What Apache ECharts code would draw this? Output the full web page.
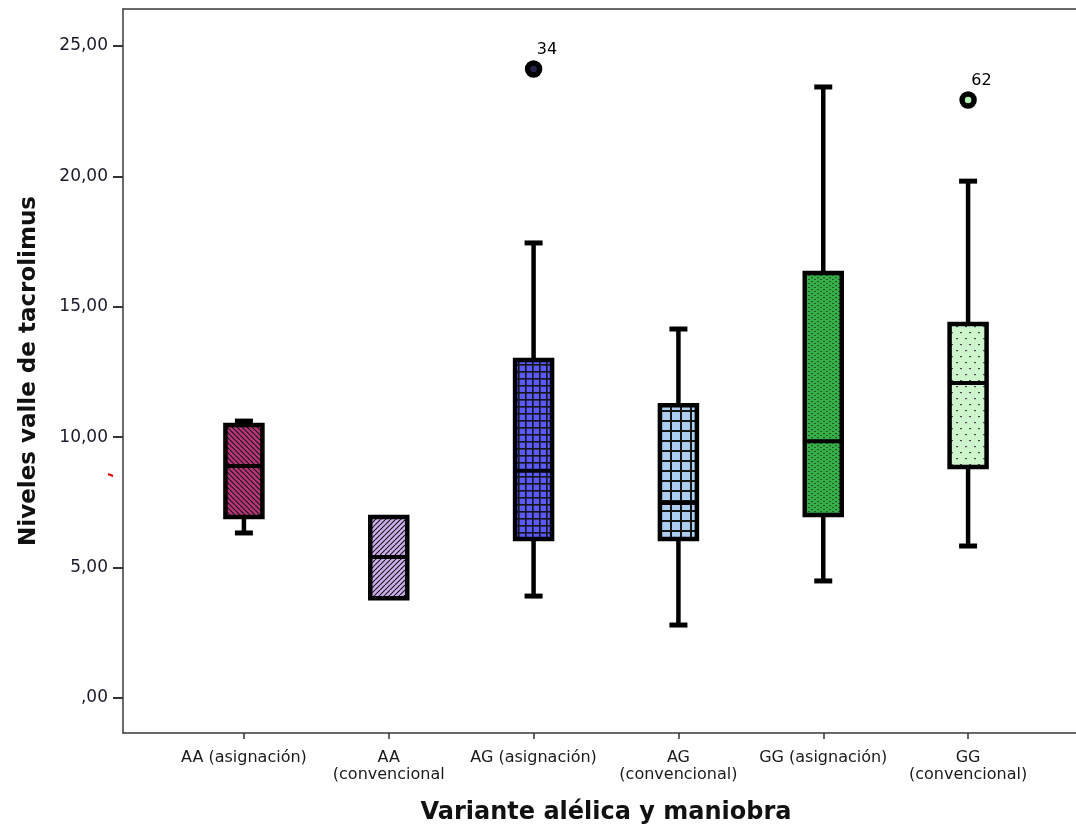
<!DOCTYPE html>
<html>
<head>
<meta charset="utf-8">
<script src="https://cdn.jsdelivr.net/npm/echarts@6/dist/echarts.min.js"></script>
<style>
  html, body { margin: 0; padding: 0; background: #fff; }
  #chart { width: 1076px; height: 832px; }
</style>
</head>
<body>
<div id="chart"></div>
<script>
// group labels (the second one is cut off in the original)
const categories = [
  'AA (asignación)',
  'AA\n(convencional',
  'AG (asignación)',
  'AG\n(convencional)',
  'GG (asignación)',
  'GG\n(convencional)'
]
const whiskerLow = [6.33, 3.83, 3.91, 2.80, 4.49, 5.83]
const q1 = [6.94, 3.83, 6.10, 6.10, 7.02, 8.86]
const median = [8.90, 5.41, 8.72, 7.48, 9.85, 12.08]
const q3 = [10.47, 6.94, 12.96, 11.23, 16.30, 14.34]
const whiskerHigh = [10.62, 6.94, 17.45, 14.15, 23.43, 19.82]
// outliers: [group index, value, case label]
const outliers = [[2, 24.12, '34'], [5, 22.93, '62']]
const yTicks = [0, 5, 10, 15, 20, 25]

const font = 'DejaVu Sans'

function makePattern (w, h, bg, draw) {
  const c = document.createElement('canvas')
  c.width = w
  c.height = h
  const ctx = c.getContext('2d')
  ctx.fillStyle = bg
  ctx.fillRect(0, 0, w, h)
  draw(ctx, w, h)
  return { image: c, repeat: 'repeat' }
}

function diag (dir) {
  return (ctx, w, h) => {
    ctx.strokeStyle = '#151515'
    ctx.lineWidth = 1.1
    ctx.beginPath()
    for (const k of [-w, 0, w]) {
      if (dir > 0) { ctx.moveTo(k, 0); ctx.lineTo(k + w, h) } else { ctx.moveTo(k, h); ctx.lineTo(k + w, 0) }
    }
    ctx.stroke()
  }
}

function grid (lw) {
  return (ctx, w, h) => {
    ctx.fillStyle = '#151515'
    ctx.fillRect(0, 0, w, lw)
    ctx.fillRect(0, 0, lw, h)
  }
}

function dots (color, pts) {
  return (ctx) => {
    ctx.fillStyle = color
    pts.forEach(p => ctx.fillRect(p[0], p[1], 2, 1.2))
  }
}

const fills = [
  makePattern(5, 5, '#b8357a', diag(1)),
  makePattern(5, 5, '#cdaeec', diag(-1)),
  makePattern(7, 7, '#5a5aff', grid(1.6)),
  makePattern(10, 10, '#aacdf0', grid(2)),
  makePattern(6, 4, '#38b04a', dots('#1d5a27', [[1, 1], [4, 3]])),
  makePattern(9, 12, '#cdf6cd', dots('#4a4a4a', [[2, 2], [6, 8]]))
]
const outlierFill = ['#24244e', '#b5efb5']

const boxData = categories.map((c, i) => [i, whiskerLow[i], q1[i], median[i], q3[i], whiskerHigh[i]])

const chart = echarts.init(document.getElementById('chart'))

const yMin = -1.34
const yMax = 26.42

const frameLine = { show: true, onZero: false, lineStyle: { color: '#3a3a3a', width: 1.5 } }

const option = {
  animation: false,
  textStyle: { fontFamily: font },
  grid: [
    { left: 123, top: 9, width: 966, height: 724 },
    { left: 171.5, top: 9, width: 869, height: 724 }
  ],
  xAxis: [
    { gridIndex: 0, type: 'value', min: 0, max: 1, position: 'bottom', axisLine: frameLine, axisTick: { show: false }, axisLabel: { show: false }, splitLine: { show: false } },
    {
      gridIndex: 1,
      type: 'category',
      data: categories,
      boundaryGap: true,
      position: 'bottom',
      axisLine: { show: false, onZero: false },
      axisTick: { show: true, alignWithLabel: true, length: 6, lineStyle: { color: '#333', width: 1.5 } },
      axisLabel: { interval: 0, fontSize: 16, color: '#1a1a1a', margin: 16, lineHeight: 17, fontFamily: font },
      splitLine: { show: false },
      name: 'Variante alélica y maniobra',
      nameLocation: 'middle',
      nameGap: 68,
      nameTextStyle: { fontSize: 24, fontWeight: 'bold', color: '#111', fontFamily: font }
    },
    { gridIndex: 0, type: 'value', min: 0, max: 1, position: 'top', axisLine: frameLine, axisTick: { show: false }, axisLabel: { show: false }, splitLine: { show: false } }
  ],
  yAxis: [
    {
      gridIndex: 0,
      type: 'value',
      min: yMin,
      max: yMax,
      axisLine: { show: true, onZero: false, lineStyle: { color: '#3a3a3a', width: 1.5 } },
      axisTick: { show: true, length: 10, customValues: yTicks, lineStyle: { color: '#333', width: 2 } },
      axisLabel: {
        fontSize: 17,
        color: '#1a1a2a',
        margin: 15,
        customValues: yTicks,
        fontFamily: font,
        formatter: v => v === 0 ? ',00' : v.toFixed(2).replace('.', ',')
      },
      splitLine: { show: false },
      name: 'Niveles valle de tacrolimus',
      nameLocation: 'middle',
      nameGap: 82,
      nameTextStyle: { fontSize: 23, fontWeight: 'bold', color: '#111', fontFamily: font }
    },
    { gridIndex: 1, type: 'value', min: yMin, max: yMax, show: false }
  ],
  graphic: [
    { type: 'line', shape: { x1: 108, y1: 474, x2: 113, y2: 476 }, style: { stroke: '#e00000', lineWidth: 2 }, z: 10 }
  ],
  series: [
    {
      type: 'custom',
      xAxisIndex: 1,
      yAxisIndex: 1,
      data: boxData,
      encode: { x: 0, y: [1, 2, 3, 4, 5] },
      renderItem: function (params, api) {
        const i = api.value(0)
        const lo = api.coord([i, api.value(1)])
        const b1 = api.coord([i, api.value(2)])
        const md = api.coord([i, api.value(3)])
        const b3 = api.coord([i, api.value(4)])
        const hi = api.coord([i, api.value(5)])
        const x = lo[0]
        const bw = 37
        const cw = 18
        const lw = 4.5
        const line = (x1, y1, x2, y2, w) => ({
          type: 'line',
          shape: { x1, y1, x2, y2 },
          style: { stroke: '#000', lineWidth: w }
        })
        const children = []
        if (hi[1] < b3[1] - 0.5) {
          children.push(line(x, hi[1], x, b3[1], lw))
          children.push(line(x - cw / 2, hi[1], x + cw / 2, hi[1], 5))
        }
        if (lo[1] > b1[1] + 0.5) {
          children.push(line(x, b1[1], x, lo[1], lw))
          children.push(line(x - cw / 2, lo[1], x + cw / 2, lo[1], 5))
        }
        children.push({
          type: 'rect',
          shape: { x: x - bw / 2, y: b3[1], width: bw, height: b1[1] - b3[1] },
          style: { fill: fills[params.dataIndex], stroke: '#000', lineWidth: lw }
        })
        children.push(line(x - bw / 2, md[1], x + bw / 2, md[1], 4))
        return { type: 'group', children }
      },
      z: 3
    },
    {
      type: 'scatter',
      xAxisIndex: 1,
      yAxisIndex: 1,
      symbol: 'circle',
      symbolSize: 12,
      data: outliers.map((o, k) => ({
        value: [o[0], o[1]],
        name: o[2],
        itemStyle: { color: outlierFill[k], borderColor: '#000', borderWidth: 5.5, opacity: 1 }
      })),
      label: {
        show: true,
        formatter: '{b}',
        position: [12, -18],
        fontSize: 16,
        color: '#000',
        fontFamily: font
      },
      z: 4
    }
  ]
}

chart.setOption(option)
</script>
</body>
</html>
